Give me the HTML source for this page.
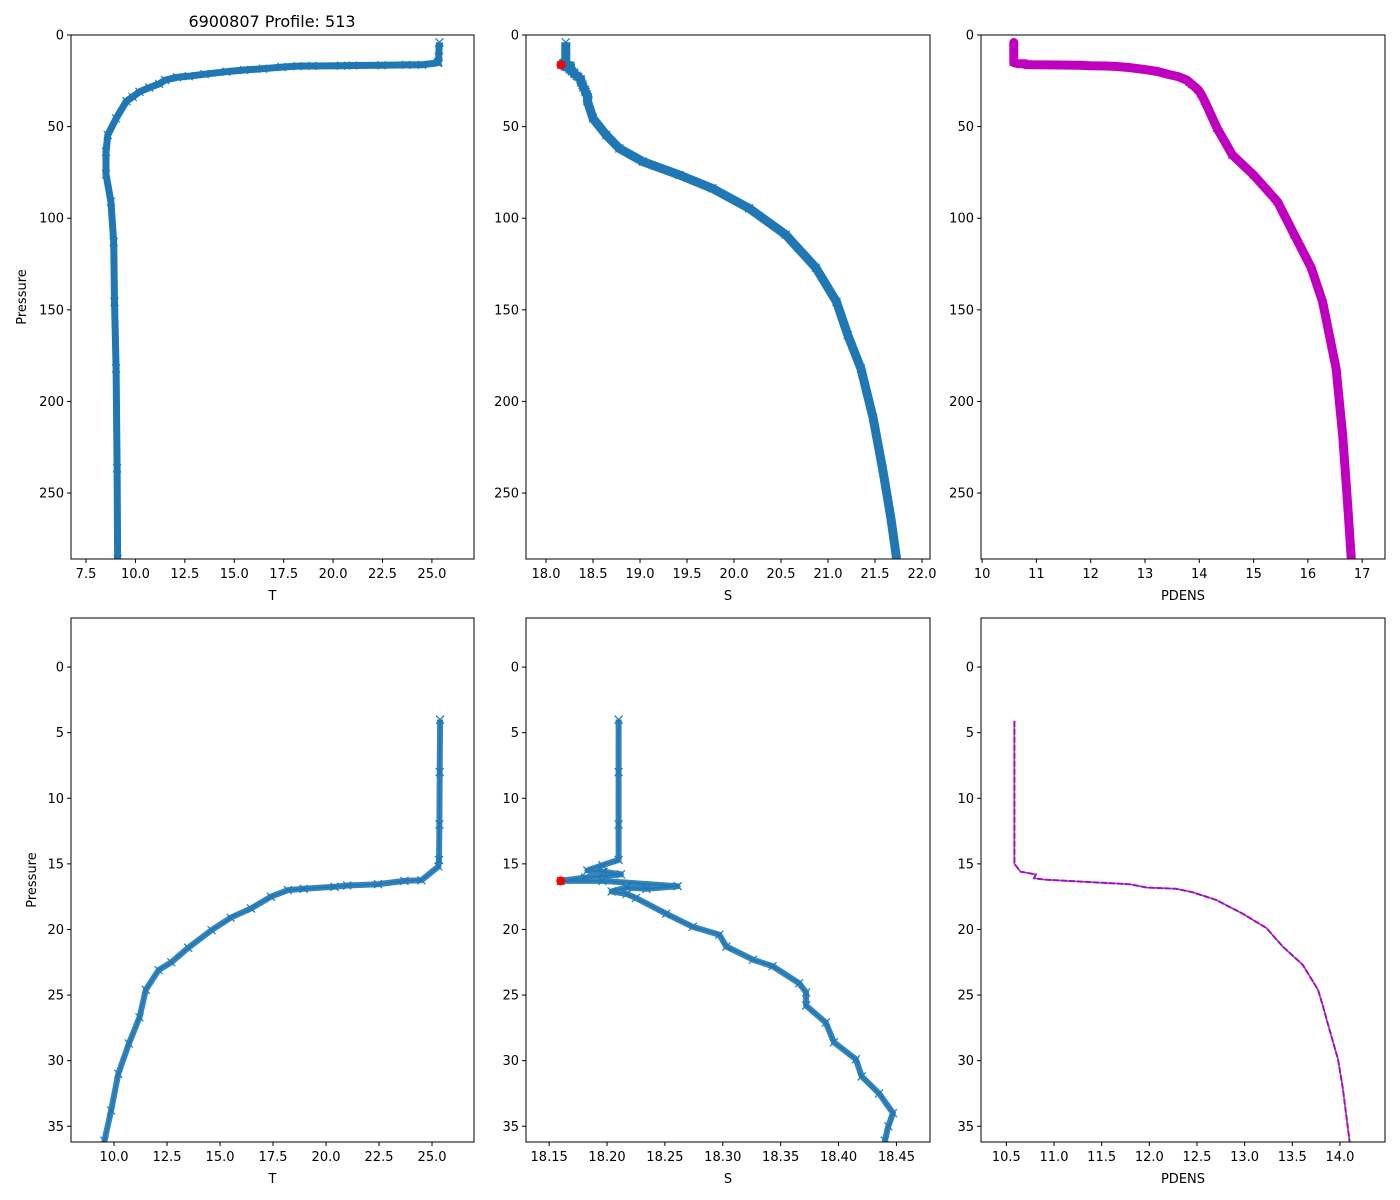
<!DOCTYPE html>
<html><head><meta charset="utf-8">
<style>
html,body{margin:0;padding:0;background:#fff;width:1400px;height:1200px;overflow:hidden;position:relative;}
svg{display:block;position:absolute;left:0;top:0;font-family:"DejaVu Sans","Liberation Sans",sans-serif;}
</style></head>
<body>
<svg id="fig" width="1400" height="1200" viewBox="0 0 1400 1200" xmlns="http://www.w3.org/2000/svg">
<rect width="1400" height="1200" fill="#fff"/>
<text x="272" y="27" font-size="16" text-anchor="middle">6900807 Profile: 513</text>
</svg>
<script>
// Temperature profile
const tP = [4.0,8,12,14.7,15.2,16.25,16.3,16.55,16.65,16.75,16.9,17.0,17.5,18.4,19.1,20.05,21.4,22.5,23.1,24.6,26.7,28.7,31.0,33.8,36.1,45.5,54.6,63.7,76,91,113,145.6,182,236.5,286];
const tV = [25.38,25.36,25.35,25.33,25.3,24.5,23.7,22.45,21.0,20.4,18.95,18.2,17.4,16.46,15.5,14.6,13.5,12.7,12.1,11.5,11.2,10.7,10.2,9.86,9.55,9.02,8.6,8.51,8.51,8.76,8.9,8.94,9.02,9.07,9.1];
// Salinity profile
const sP = [4.0,8,12,14.7,15.1,15.5,15.6,15.8,16.05,16.3,16.3,16.7,16.9,16.8,17.1,17.3,17.6,18.8,19.8,20.4,21.3,22.3,22.8,24.1,24.8,25.8,27.1,28.6,29.9,31.2,32.5,34.0,35.0,36.1,45.5,54.6,61.9,69.1,76.4,83.7,94.6,109,127,145.6,163.8,182,209,236.5,264,286];
const sV = [18.210,18.210,18.210,18.210,18.196,18.183,18.197,18.212,18.181,18.160,18.196,18.261,18.234,18.217,18.204,18.217,18.225,18.251,18.274,18.297,18.303,18.326,18.343,18.366,18.372,18.372,18.389,18.396,18.415,18.420,18.435,18.447,18.443,18.440,18.50,18.64,18.78,19.03,19.42,19.77,20.16,20.55,20.87,21.09,21.21,21.35,21.48,21.58,21.67,21.73];
// Potential density profile
const dP = [4.1,8,12,15.0,15.6,15.8,16.1,16.2,16.4,16.55,16.8,16.9,17.15,17.75,18.8,19.9,21.3,22.7,24.6,25.8,27.1,29.9,32.1,36.1,51,65.5,76.4,91,109,127,145.6,182,218,255,286];
const dV = [10.584,10.584,10.584,10.584,10.65,10.81,10.79,10.90,11.40,11.79,11.97,12.28,12.45,12.70,12.98,13.23,13.40,13.61,13.77,13.82,13.87,13.98,14.03,14.10,14.33,14.61,15.0,15.44,15.75,16.06,16.27,16.52,16.64,16.73,16.80];
// Minimum salinity marker
const minP = [16.3];
const minS = [18.160];
// Tick labels
const topYTicks = [0,50,100,150,200,250];
const botYTicks = [0,5,10,15,20,25,30,35];
const tTopTicks = ["7.5","10.0","12.5","15.0","17.5","20.0","22.5","25.0"];
const sTopTicks = ["18.0","18.5","19.0","19.5","20.0","20.5","21.0","21.5","22.0"];
const dTopTicks = ["10","11","12","13","14","15","16","17"];
const tBotTicks = ["10.0","12.5","15.0","17.5","20.0","22.5","25.0"];
const sBotTicks = ["18.15","18.20","18.25","18.30","18.35","18.40","18.45"];
const dBotTicks = ["10.5","11.0","11.5","12.0","12.5","13.0","13.5","14.0"];

const NS="http://www.w3.org/2000/svg";
const svg=document.getElementById('fig');
function mk(tag,attrs,parent){const e=document.createElementNS(NS,tag);for(const k in attrs)e.setAttribute(k,attrs[k]);(parent||svg).appendChild(e);return e;}

const panels=[
 {id:'temp-top',x0:71,x1:474,y0:35,y1:559,xmin:6.74,xmax:27.13,ymin:0,ymax:286,xt:tTopTicks,yt:topYTicks,xl:'T',yl:true,v:'T',top:true},
 {id:'sal-top',x0:526,x1:930,y0:35,y1:559,xmin:17.787,xmax:22.085,ymin:0,ymax:286,xt:sTopTicks,yt:topYTicks,xl:'S',v:'S',top:true},
 {id:'dens-top',x0:981,x1:1385,y0:35,y1:559,xmin:9.98,xmax:17.42,ymin:0,ymax:286,xt:dTopTicks,yt:topYTicks,xl:'PDENS',v:'D',top:true},
 {id:'temp-bottom',x0:71,x1:474,y0:618,y1:1142,xmin:7.97,xmax:26.98,ymin:-3.74,ymax:36.2,xt:tBotTicks,yt:botYTicks,xl:'T',yl:true,v:'T',top:false},
 {id:'sal-bottom',x0:526,x1:930,y0:618,y1:1142,xmin:18.130,xmax:18.479,ymin:-3.74,ymax:36.2,xt:sBotTicks,yt:botYTicks,xl:'S',v:'S',top:false},
 {id:'dens-bottom',x0:981,x1:1385,y0:618,y1:1142,xmin:10.234,xmax:14.473,ymin:-3.74,ymax:36.2,xt:dBotTicks,yt:botYTicks,xl:'PDENS',v:'D',top:false}
];

panels.forEach(p=>{
  const g=mk('g',{});
  
  
  const sx=v=>p.x0+(v-p.xmin)/(p.xmax-p.xmin)*(p.x1-p.x0);
  const sy=v=>p.y0+(v-p.ymin)/(p.ymax-p.ymin)*(p.y1-p.y0);
  const clipId='clip-'+p.id;
  const cp=mk('clipPath',{id:clipId},g);
  mk('rect',{x:p.x0,y:p.y0,width:p.x1-p.x0,height:p.y1-p.y0},cp);
  const plot=mk('g',{'clip-path':'url(#'+clipId+')'},g);
  
  
  let P,V,col;
  if(p.v==='T'){P=tP;V=tV;col='#1f77b4';}
  else if(p.v==='S'){P=sP;V=sV;col='#1f77b4';}
  else {P=dP;V=dV;col='#bf00bf';}
  const pts=P.map((pp,i)=>sx(V[i]).toFixed(1)+','+sy(pp).toFixed(1)).join(' ');
  if(p.v==='D'){
    const base=mk('polyline',{points:pts,fill:'none',stroke:'#1f77b4','stroke-width':1.5},plot);
    
    
    if(p.top){
      const band=mk('polyline',{points:pts,fill:'none',stroke:col,'stroke-width':9,'stroke-linejoin':'round','stroke-linecap':'round'},plot);
      
      
      P.forEach((pp,i)=>{const cx=sx(V[i]),cy=sy(pp);
        const m=mk('polygon',{points:`${cx},${cy-5} ${cx-4.5},${cy+3.5} ${cx+4.5},${cy+3.5}`,fill:col},plot);
        
        });
    } else {
      const dash=mk('polyline',{points:pts,fill:'none',stroke:col,'stroke-width':2,'stroke-dasharray':'6,2'},plot);
      
      
    }
  } else {
    const line=mk('polyline',{points:pts,fill:'none',stroke:col,'stroke-width':1.5},plot);
    
    
    if(p.top){
      const band=mk('polyline',{points:pts,fill:'none',stroke:col,'stroke-width':p.v==='T'?7:9,'stroke-linejoin':'round','stroke-linecap':'butt'},plot);
      
      
    } else {
      const band=mk('polyline',{points:pts,fill:'none',stroke:col,'stroke-width':6,'stroke-linejoin':'round','stroke-opacity':0.9},plot);
      
      
    }
    P.forEach((pp,i)=>{const cx=sx(V[i]),cy=sy(pp);
      const m=mk('path',{d:`M${cx-4},${cy-4}L${cx+4},${cy+4}M${cx-4},${cy+4}L${cx+4},${cy-4}`,stroke:col,'stroke-width':1.2},plot);
      
      });
    if(p.v==='S'){
      minP.forEach((pp,i)=>{
        const c=mk('circle',{cx:sx(minS[i]),cy:sy(pp),r:4.5,fill:'#ff0000'},plot);
        
        });
    }
  }
  const fr=mk('rect',{x:p.x0,y:p.y0,width:p.x1-p.x0,height:p.y1-p.y0,fill:'none',stroke:'#000','stroke-width':1},g);
  
  
  p.xt.forEach(t=>{const x=sx(parseFloat(t));
    mk('line',{x1:x,x2:x,y1:p.y1,y2:p.y1+4,stroke:'#000'},g);
    const tx=mk('text',{x:x,y:p.y1+19,'font-size':13,'text-anchor':'middle'},g);
    tx.textContent=t;
    
    });
  p.yt.forEach(t=>{const y=sy(t);
    mk('line',{x1:p.x0-4,x2:p.x0,y1:y,y2:y,stroke:'#000'},g);
    const ty=mk('text',{x:p.x0-7,y:y+4.5,'font-size':13,'text-anchor':'end'},g);
    ty.textContent=String(t);
    
    });
  const xl=mk('text',{x:(p.x0+p.x1)/2,y:p.y1+41,'font-size':13,'text-anchor':'middle'},g);
  xl.textContent=p.xl;
  
  
  if(p.yl){
    const yx=p.top?26:36;const yy=(p.y0+p.y1)/2;
    const yt=mk('text',{x:yx,y:yy,'font-size':13,'text-anchor':'middle',transform:`rotate(-90 ${yx} ${yy})`},g);
    yt.textContent='Pressure';
    
    
  }
});
</script>
</body></html>
